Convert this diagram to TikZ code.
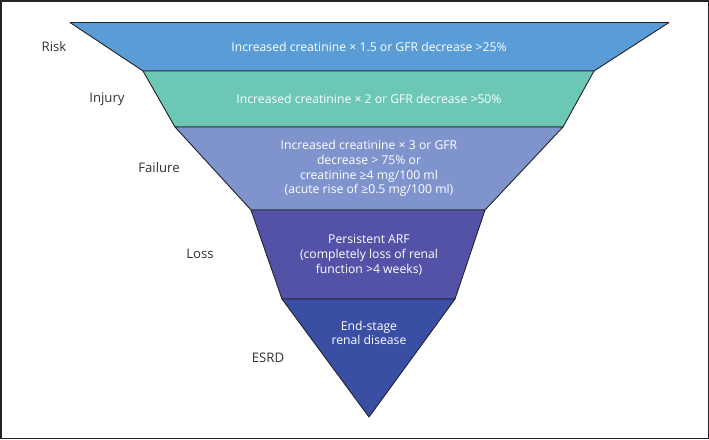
\documentclass[tikz,border=0pt]{standalone}
\usepackage{fontspec}
\setmainfont{Open Sans}
\definecolor{riskc}{RGB}{90,156,213}
\definecolor{injc}{RGB}{108,199,180}
\definecolor{failc}{RGB}{127,148,204}
\definecolor{lossc}{RGB}{84,82,166}
\definecolor{esrdc}{RGB}{58,79,163}
\definecolor{edgec}{RGB}{35,35,40}
\definecolor{labc}{RGB}{50,50,50}
\begin{document}
\begin{tikzpicture}[x=1pt,y=-1pt,
  band/.style={draw=edgec,line width=0.9pt,line join=round},
  intext/.style={text=white,align=center,font=\fontsize{12.2}{14.8}\selectfont,inner sep=0pt},
  lab/.style={text=labc,font=\fontsize{13.2}{15}\selectfont,inner sep=0pt}]
\useasboundingbox (0,0) rectangle (709,439);
\fill[white] (0,0) rectangle (709,439);
\draw[line width=1.5pt,draw=edgec] (0.75,0.75) rectangle (708.25,438.25);
% coordinates
\coordinate (a1) at (70,22.5);   \coordinate (a2) at (669,22.5);
\coordinate (b1) at (143,71);    \coordinate (b2) at (594,71);
\coordinate (c1) at (175,127);   \coordinate (c2) at (563,127);
\coordinate (d1) at (251,210);   \coordinate (d2) at (485,210);
\coordinate (e1) at (282,299);   \coordinate (e2) at (455,299);
\coordinate (f) at (369,417);
% bands
\draw[band,fill=riskc] (a1) -- (a2) -- (b2) -- (b1) -- cycle;
\draw[band,fill=injc] (b1) -- (b2) -- (c2) -- (c1) -- cycle;
\draw[band,fill=failc] (c1) -- (c2) -- (d2) -- (d1) -- cycle;
\draw[band,fill=lossc] (d1) -- (d2) -- (e2) -- (e1) -- cycle;
\draw[band,fill=esrdc] (e1) -- (e2) -- (f) -- cycle;
% texts
\node[intext] (t1) at (369,46.5) {Increased creatinine × 1.5 or GFR decrease >25\%};
\node[intext] (t2) at (369,99) {Increased creatinine × 2 or GFR decrease >50\%};
\node[intext] (t3) at (369,168.5) {Increased creatinine × 3 or GFR\\decrease > 75\% or\\creatinine ≥4 mg/100 ml\\(acute rise of ≥0.5 mg/100 ml)};
\node[intext] (t4) at (369,255) {Persistent ARF\\(completely loss of renal\\function >4 weeks)};
\node[intext] (t5) at (369,333) {End-stage\\renal disease};
% labels
\node[lab] (l1) at (54,47) {Risk};
\node[lab] (l2) at (107,99) {Injury};
\node[lab] (l3) at (159,168) {Failure};
\node[lab] (l4) at (200,254) {Loss};
\node[lab] (l5) at (268,358) {ESRD};
\end{tikzpicture}
\end{document}
